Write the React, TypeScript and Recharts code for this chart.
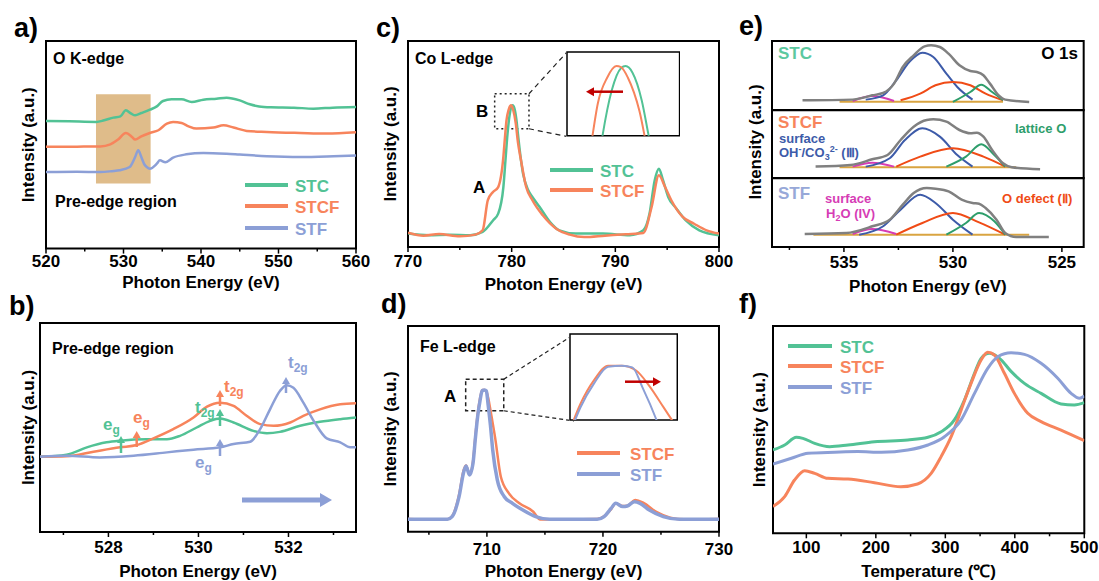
import React from 'react';
import { LineChart, Line, XAxis, YAxis, ReferenceArea, ReferenceLine } from 'recharts';

type Pt = [number, number];

const FONT = '"Liberation Sans", Arial, Helvetica, sans-serif';
const C_STC = '#52c295';
const C_STCF = '#f7845c';
const C_STF = '#8c9fd6';
const C_GRAY = '#808080';
const C_III = '#3d5ba9';
const C_II = '#f04b16';
const C_I = '#2e9e6b';
const C_IV = '#d63cb5';
const C_BASE = '#d9a441';
const C_RED = '#c00000';

// a) O K-edge
const okStc: Pt[] = [[520, 61.5], [523, 61.3], [526.5, 61.0], [527.5, 61.8], [528.7, 63.1], [529.6, 63.7], [530.3, 66.6], [531.0, 65.0], [531.5, 64.2], [532.3, 65.3], [533.4, 66.9], [534.3, 68.5], [535.1, 71.1], [536.2, 71.9], [537.5, 71.9], [538.8, 70.6], [540.3, 71.7], [542, 72.2], [543.3, 72.7], [545, 71.4], [546.3, 69.5], [547.5, 68.5], [549, 68.1], [552, 67.9], [554.5, 67.4], [557, 67.9], [560, 68.2]];
const okStcf: Pt[] = [[520, 49.0], [524, 49.1], [527, 49.2], [528.3, 50.2], [529.3, 52.5], [530.3, 55.7], [531.1, 53.8], [531.5, 52.5], [532.3, 54.1], [533.4, 55.7], [534.5, 57.0], [535.6, 60.2], [536.4, 61.0], [537.5, 60.5], [538.4, 58.9], [539.4, 57.8], [541.6, 58.3], [542.9, 59.4], [544.2, 58.3], [545.9, 56.7], [548.5, 56.2], [552.8, 55.7], [556.2, 55.4], [560, 56.0]];
const okStf: Pt[] = [[520, 36.9], [524, 37.0], [527, 36.9], [528.5, 37.3], [529.5, 37.7], [530.8, 39.3], [531.5, 44.1], [531.9, 47.4], [532.3, 44.1], [532.7, 40.5], [533.0, 39.3], [533.4, 38.5], [534.3, 40.9], [534.7, 42.5], [535.4, 41.6], [536.4, 43.8], [538.1, 45.4], [540.3, 46.1], [543.3, 45.7], [545, 45.3], [548.5, 44.5], [552.8, 44.1], [557.1, 44.5], [560, 44.9]];

// b) pre-edge region
const peStc: Pt[] = [[526.48, 36.0], [527.07, 37.0], [527.52, 40.5], [527.96, 42.9], [528.26, 43.7], [528.85, 44.4], [529.3, 44.4], [529.59, 46.0], [529.96, 50.0], [530.26, 53.2], [530.48, 54.3], [530.78, 52.4], [531.22, 48.4], [531.52, 47.3], [531.81, 47.9], [532.26, 50.8], [532.7, 52.7], [533.15, 54.0], [533.5, 54.8]];
const peStcf: Pt[] = [[526.48, 36.0], [527.07, 36.2], [527.67, 38.4], [528.26, 40.5], [528.63, 41.6], [529.0, 44.8], [529.44, 49.2], [529.89, 54.8], [530.19, 60.0], [530.48, 61.9], [530.78, 60.3], [531.07, 55.6], [531.37, 51.6], [531.67, 50.8], [532.04, 52.4], [532.33, 55.6], [532.7, 58.7], [533.15, 61.1], [533.5, 61.6]];
const peStf: Pt[] = [[526.48, 36.0], [527.07, 36.5], [527.81, 35.7], [528.56, 36.5], [529.3, 38.1], [529.89, 39.4], [530.48, 40.5], [530.78, 42.1], [531.15, 43.2], [531.37, 49.2], [531.59, 58.7], [531.81, 67.5], [531.96, 70.2], [532.11, 69.0], [532.33, 61.9], [532.56, 53.2], [532.85, 44.8], [533.15, 42.9], [533.37, 40.5], [533.5, 40.5]];

// c) Co L-edge
const coStc: Pt[] = [[770, 6.5], [772, 5.7], [774, 6.0], [776, 5.7], [777.2, 7.3], [778.2, 12.9], [778.7, 16.2], [779.2, 29.1], [779.4, 42], [779.6, 55], [779.8, 64], [780.0, 68.4], [780.1, 68.8], [780.25, 67.5], [780.45, 62], [780.6, 55], [780.85, 44], [781.1, 35.6], [781.6, 27.5], [782, 24.3], [782.7, 19.4], [783.7, 12.1], [784.6, 8.1], [786.2, 6.5], [788.8, 6.5], [791.4, 5.7], [792.7, 8.1], [793.3, 16.2], [793.8, 32.4], [794.2, 38.0], [794.6, 32.4], [795.1, 24.3], [795.9, 18.6], [796.8, 12.9], [798.1, 8.1], [800, 5.7]];
const coStcf: Pt[] = [[770, 7.0], [771.5, 5.5], [773, 6.3], [775, 5.2], [776.5, 6.0], [777.2, 8.1], [777.7, 22.7], [778.2, 26.7], [778.7, 29.1], [779.2, 43.7], [779.35, 53], [779.5, 61.5], [779.7, 66.5], [779.9, 68.8], [780.0, 68.6], [780.15, 66.5], [780.4, 59.9], [780.6, 51], [780.9, 42.1], [781.4, 29.1], [782, 22.7], [783, 15.4], [784.3, 8.9], [785.6, 6.0], [787, 4.8], [789, 5.5], [791, 6.2], [792.7, 6.8], [793.5, 19.4], [794.2, 34.8], [794.8, 29.1], [795.4, 22.7], [796.5, 14.6], [797.6, 11.3], [798.8, 8.1], [800, 6.5]];

// d) Fe L-edge
const feStcf: Pt[] = [[703.2, 6.2], [705, 5.8], [706.6, 6.1], [707.0, 7.5], [707.6, 18], [708.0, 30], [708.2, 32.2], [708.5, 28], [708.8, 34], [709.0, 46], [709.2, 57], [709.4, 64.5], [709.6, 68.9], [709.8, 68.9], [710.0, 67.5], [710.2, 62.5], [710.4, 56], [710.7, 46], [711.2, 26.7], [711.9, 18.6], [712.8, 13.8], [714.0, 9.7], [714.6, 5.9], [719.5, 6.2], [720.1, 7.5], [720.7, 11], [721.1, 13.8], [721.7, 12.5], [722.1, 12.6], [722.8, 15.4], [723.5, 14], [724.6, 9.6], [725.8, 6.8], [727, 6.0], [730, 6.2]];
const feStf: Pt[] = [[703.2, 6.0], [705, 6.0], [706.6, 6.0], [707.0, 7.3], [707.6, 17.0], [708.0, 29.0], [708.2, 31.9], [708.5, 27.6], [708.8, 33.2], [709.0, 45], [709.2, 55.9], [709.4, 63.5], [709.6, 68.6], [709.8, 68.9], [709.95, 68.4], [710.1, 62], [710.3, 52], [710.5, 39.7], [710.9, 25.1], [711.5, 17.0], [712.2, 13.8], [713.1, 10.5], [714.2, 7.3], [715.4, 6.0], [719.5, 6.0], [720.1, 7.3], [720.7, 11.3], [721.1, 13.8], [721.7, 12.2], [722.1, 12.5], [722.7, 14.6], [723.2, 13.8], [724.0, 10.5], [725.2, 7.3], [726.6, 6.0], [730, 6.0]];

// e) O 1s fits, one set per sample
const stcEnv: Pt[] = [[536.9, 14.4], [534.6, 15.4], [534.1, 18.3], [533.7, 21.6], [533.2, 25.0], [532.7, 38.5], [532.3, 62.5], [531.8, 79.3], [531.3, 92.3], [531.0, 93.8], [530.6, 91.3], [530.2, 81.7], [529.7, 64.9], [529.2, 56.7], [528.9, 55.3], [528.6, 50.5], [528.3, 38.5], [527.9, 21.6], [527.6, 15.4], [526.5, 12.0]];
const stcIII: Pt[] = [[534.0, 15.4], [533.2, 21.6], [532.6, 43.3], [532.0, 69.7], [531.4, 83.2], [530.9, 76.9], [530.3, 52.9], [529.8, 33.7], [529.1, 15.4]];
const stcII: Pt[] = [[532.4, 14.4], [531.5, 24.0], [530.8, 36.1], [530.0, 40.9], [529.2, 36.1], [528.5, 24.0], [527.7, 14.4]];
const stcI: Pt[] = [[530.0, 12.0], [529.2, 26.4], [528.7, 37.0], [528.2, 26.4], [527.7, 14.4]];
const stcIV: Pt[] = [[534.6, 13.5], [533.7, 20.7], [532.7, 13.5]];
const stcBase: Pt[] = [[535.2, 12.5], [527.7, 12.5]];

const stcfEnv: Pt[] = [[536.3, 17.1], [534.7, 19.5], [533.7, 27.8], [533.0, 34.1], [532.4, 56.1], [531.8, 75.6], [531.2, 85.4], [530.9, 86.3], [530.3, 82.9], [529.7, 70.7], [529.2, 65.9], [528.9, 66.8], [528.6, 61.0], [528.2, 41.5], [527.7, 22.0], [527.3, 16.1], [526.0, 13.2]];
const stcfIII: Pt[] = [[534.0, 17.1], [532.9, 29.3], [532.2, 56.1], [531.4, 73.2], [530.6, 61.0], [529.8, 34.1], [529.1, 17.1]];
const stcfII: Pt[] = [[532.6, 17.1], [531.5, 31.7], [530.0, 43.9], [528.6, 31.7], [527.6, 17.1]];
const stcfI: Pt[] = [[530.3, 17.1], [529.4, 31.7], [528.7, 49.8], [528.1, 34.1], [527.6, 17.1]];
const stcfIV: Pt[] = [[534.6, 17.1], [533.7, 22.9], [532.7, 17.1]];
const stcfBase: Pt[] = [[535.2, 16.1], [527.1, 16.1]];

const stfEnv: Pt[] = [[536.8, 18.8], [534.9, 20.3], [533.7, 30.0], [532.9, 39.6], [532.3, 61.4], [531.8, 78.3], [531.2, 85.5], [530.8, 84.5], [530.2, 80.7], [529.6, 68.6], [529.1, 63.8], [528.8, 62.8], [528.5, 56.5], [528.0, 39.6], [527.6, 20.3], [527.1, 14.5], [525.6, 14.5]];
const stfIII: Pt[] = [[534.3, 17.9], [533.2, 30.0], [532.4, 54.1], [531.5, 75.8], [530.8, 63.8], [530.0, 39.6], [529.1, 17.9]];
const stfII: Pt[] = [[532.6, 17.9], [531.4, 34.8], [530.0, 49.3], [528.8, 35.7], [527.6, 17.9]];
const stfI: Pt[] = [[530.3, 17.9], [529.4, 34.8], [528.8, 49.3], [528.1, 37.2], [527.6, 17.9]];
const stfIV: Pt[] = [[534.6, 18.8], [533.7, 26.1], [532.6, 18.8]];
const stfBase: Pt[] = [[536.4, 17.9], [526.5, 17.9]];

// f) temperature programmed curves
const tpStc: Pt[] = [[52, 40.2], [68.8, 42.6], [85.6, 46.3], [95, 45.8], [112, 43.4], [133.5, 41.8], [160, 42.6], [198, 44.2], [246, 45.0], [275, 46.3], [294, 49.0], [313, 54.7], [327.5, 64.3], [342, 77.2], [351.5, 84.4], [363.5, 86.8], [378, 84.4], [394.6, 78.1], [413.8, 72.3], [437.8, 67.5], [466.5, 62.4], [485.6, 61.9], [500, 63.0]];
const tpStcf: Pt[] = [[52, 12.9], [68.8, 17.7], [83, 25.7], [97.6, 30.2], [112, 28.9], [131, 26.5], [160, 26.2], [198, 24.4], [236, 22.5], [260, 23.8], [279.6, 28.9], [294, 37.0], [308.4, 46.6], [322.8, 59.5], [337, 72.3], [351.5, 83.6], [361, 87.3], [370.6, 86.0], [385, 77.2], [399.4, 67.5], [418.6, 57.9], [437.8, 53.9], [466.5, 49.8], [500, 44.7]];
const tpStf: Pt[] = [[52, 33.4], [78.5, 36.2], [102.4, 38.6], [140.7, 39.1], [174, 39.4], [208, 39.1], [246, 40.2], [275, 42.6], [298.8, 46.6], [322.8, 54.7], [342, 67.5], [361, 79.6], [375.5, 85.2], [394.6, 87.1], [413.8, 86.3], [437.8, 82.0], [461.8, 74.8], [481, 67.5], [493, 65.1], [500, 66.2]];

const aMajors = [520, 530, 540, 550, 560];
const aMinors = [525, 535, 545, 555];
const bMajors = [528, 530, 532];
const bMinors = [527, 529, 531, 533];
const cMajors = [770, 780, 790, 800];
const cMinors = [775, 785, 795];
const dMajors = [710, 720, 730];
const dMinors = [705, 715, 725];
const eMajors = [525, 530, 535];
const eMinors = [527.5, 532.5, 537.5];
const fMajors = [100, 200, 300, 400, 500];
const fMinors = [150, 250, 350, 450];

type Box = { x: number; y: number; w: number; h: number };
type SeriesDef = { name: string; pts: Pt[]; color: string; width?: number };

const toRows = (pts: Pt[]) => pts.map(([x, y]) => ({ x, y }));

function tickRenderer(majors: number[], dy: number) {
  return (props: any) => {
    const { x, y, payload } = props;
    const v = payload.value;
    const major = majors.some((m) => Math.abs(m - v) < 1e-6);
    return (
      <g>
        <line x1={x} x2={x} y1={y} y2={y + (major ? 5 : 3)} stroke="#000" strokeWidth={1.5} />
        {major && (
          <text x={x} y={y + dy} textAnchor="middle" fontSize={17} fontWeight={700} fill="#000" fontFamily={FONT}>
            {v}
          </text>
        )}
      </g>
    );
  };
}

type PanelProps = {
  box: Box;
  xDomain: [number, number];
  majors?: number[];
  minors?: number[];
  reversed?: boolean;
  series: SeriesDef[];
  tickDy?: number;
  titleDy?: number;
  xTitle?: string;
  yGap?: number;
  before?: React.ReactNode;
  after?: React.ReactNode;
};

function Panel({ box, xDomain, majors = [], minors = [], reversed, series, tickDy = 20, titleDy = 42, xTitle, yGap = 0, before, after }: PanelProps) {
  const T = 2;
  const ticks = [...majors, ...minors].sort((a, b) => a - b);
  const R = ticks.length ? 22 : 2;
  const Wy = yGap > 0 ? yGap * 2 : 2;
  const H = ticks.length ? titleDy + 8 : 0;
  const width = Wy + box.w + R;
  const height = T + box.h + H + (ticks.length ? 0 : 2);
  return (
    <div style={{ position: 'absolute', left: box.x - Wy, top: box.y - T, width, height }}>
      <LineChart width={width} height={height} margin={{ top: T, right: R, left: 0, bottom: ticks.length ? 0 : 2 }}>
        <XAxis
          type="number"
          dataKey="x"
          domain={xDomain}
          reversed={reversed}
          allowDataOverflow
          hide={!ticks.length}
          ticks={ticks}
          interval={0}
          tick={tickRenderer(majors, tickDy)}
          tickLine={false}
          axisLine={false}
          tickSize={0}
          tickMargin={0}
          height={H}
          label={xTitle ? { value: xTitle, position: 'insideBottom', offset: 8, fontSize: 17, fontWeight: 700, fill: '#000', fontFamily: FONT } : undefined}
        />
        <YAxis
          type="number"
          domain={[0, 100]}
          allowDataOverflow
          width={Wy}
          tick={false}
          tickLine={false}
          axisLine={false}
          label={yGap > 0 ? { value: 'Intensity (a.u.)', angle: -90, position: 'center', fontSize: 17, fontWeight: 700, fill: '#000', fontFamily: FONT } : undefined}
        />
        {before}
        {series.map((s) => (
          <Line
            key={s.name}
            data={toRows(s.pts)}
            dataKey="y"
            name={s.name}
            type="monotone"
            dot={false}
            activeDot={false}
            stroke={s.color}
            strokeWidth={s.width ?? 2.5}
            isAnimationActive={false}
          />
        ))}
        {after}
        <ReferenceArea x1={xDomain[0]} x2={xDomain[1]} y1={0} y2={100} fill="none" stroke="#000" strokeWidth={2} ifOverflow="visible" />
      </LineChart>
    </div>
  );
}

function Inset({ box, xDomain, yDomain, series }: { box: Box; xDomain: [number, number]; yDomain: [number, number]; series: SeriesDef[] }) {
  return (
    <div style={{ position: 'absolute', left: box.x - 1, top: box.y - 1, width: box.w + 2, height: box.h + 2, background: '#fff' }}>
      <LineChart width={box.w + 2} height={box.h + 2} margin={{ top: 1, right: 1, left: 1, bottom: 1 }}>
        <XAxis type="number" dataKey="x" domain={xDomain} allowDataOverflow hide />
        <YAxis type="number" domain={yDomain} allowDataOverflow hide />
        {series.map((s) => (
          <Line key={s.name} data={toRows(s.pts)} dataKey="y" type="monotone" dot={false} activeDot={false} stroke={s.color} strokeWidth={2} isAnimationActive={false} />
        ))}
        <ReferenceArea x1={xDomain[0]} x2={xDomain[1]} y1={yDomain[0]} y2={yDomain[1]} fill="none" stroke="#000" strokeWidth={1.5} ifOverflow="visible" />
      </LineChart>
    </div>
  );
}

function Arrow({ x1, y1, x2, y2, color, w = 2.5, hw = 4, hl = 7 }: { x1: number; y1: number; x2: number; y2: number; color: string; w?: number; hw?: number; hl?: number }) {
  const dx = x2 - x1;
  const dy = y2 - y1;
  const len = Math.hypot(dx, dy);
  const ux = dx / len;
  const uy = dy / len;
  const bx = x2 - ux * hl;
  const by = y2 - uy * hl;
  const px = -uy;
  const py = ux;
  return (
    <g>
      <line x1={x1} y1={y1} x2={bx + ux} y2={by + uy} stroke={color} strokeWidth={w} />
      <polygon points={`${x2},${y2} ${bx + px * hw},${by + py * hw} ${bx - px * hw},${by - py * hw}`} fill={color} />
    </g>
  );
}

function LegendRow({ x1, x2, y, tx, color, label }: { x1: number; x2: number; y: number; tx: number; color: string; label: string }) {
  return (
    <g>
      <line x1={x1} x2={x2} y1={y} y2={y} stroke={color} strokeWidth={4} />
      <text x={tx} y={y + 6.5} fill={color} fontSize={17} fontWeight={700}>
        {label}
      </text>
    </g>
  );
}

const dotted = { fill: 'none', stroke: '#222', strokeWidth: 1.5 };

export default function App() {
  const boxA = { x: 46, y: 40.7, w: 310, h: 207.6 };
  const boxB = { x: 40, y: 323.3, w: 316, h: 209 };
  const boxC = { x: 408.3, y: 40.7, w: 311, h: 206 };
  const boxD = { x: 408.3, y: 326, w: 311, h: 205.7 };
  const boxF = { x: 772.7, y: 326, w: 311.3, h: 207.3 };
  const eDom: [number, number] = [524.0, 538.3];

  return (
    <div style={{ position: 'absolute', left: 0, top: 0, width: 1099, height: 581, background: '#fff', fontFamily: FONT, overflow: 'hidden' }}>
      <Panel
        box={boxA}
        xDomain={[520, 560]}
        majors={aMajors}
        minors={aMinors}
        tickDy={18.5}
        titleDy={39}
        xTitle="Photon Energy (eV)"
        yGap={18}
        series={[
          { name: 'STC', pts: okStc, color: C_STC },
          { name: 'STCF', pts: okStcf, color: C_STCF },
          { name: 'STF', pts: okStf, color: C_STF },
        ]}
        before={<ReferenceArea x1={526.45} x2={533.5} y1={31.3} y2={74.3} fill="#dfbc8a" fillOpacity={1} stroke="none" />}
      />
      <Panel
        box={boxB}
        xDomain={[526.48, 533.5]}
        majors={bMajors}
        minors={bMinors}
        tickDy={20.5}
        titleDy={44.5}
        xTitle="Photon Energy (eV)"
        yGap={12}
        series={[
          { name: 'STC', pts: peStc, color: C_STC },
          { name: 'STCF', pts: peStcf, color: C_STCF },
          { name: 'STF', pts: peStf, color: C_STF },
        ]}
      />
      <Panel
        box={boxC}
        xDomain={[770, 800]}
        majors={cMajors}
        minors={cMinors}
        tickDy={20}
        titleDy={43}
        xTitle="Photon Energy (eV)"
        yGap={18}
        series={[
          { name: 'STC', pts: coStc, color: C_STC },
          { name: 'STCF', pts: coStcf, color: C_STCF },
        ]}
        after={
          <>
            <ReferenceArea x1={778.36} x2={781.67} y1={57.4} y2={74.4} {...dotted} strokeDasharray="2 3" />
            <ReferenceLine segment={[{ x: 781.67, y: 74.4 }, { x: 785.28, y: 94.3 }]} stroke="#222" strokeWidth={1.2} strokeDasharray="5 4" />
            <ReferenceLine segment={[{ x: 781.67, y: 57.4 }, { x: 785.28, y: 53.7 }]} stroke="#222" strokeWidth={1.2} strokeDasharray="5 4" />
          </>
        }
      />
      <Inset
        box={{ x: 566.7, y: 52.3, w: 112.6, h: 83.7 }}
        xDomain={[778.83, 781.27]}
        yDomain={[55, 71.6]}
        series={[
          { name: 'STC', pts: coStc, color: C_STC },
          { name: 'STCF', pts: coStcf, color: C_STCF },
        ]}
      />
      <Panel
        box={boxD}
        xDomain={[703.2, 730]}
        majors={dMajors}
        minors={dMinors}
        tickDy={23}
        titleDy={45.5}
        xTitle="Photon Energy (eV)"
        yGap={18}
        series={[
          { name: 'STCF', pts: feStcf, color: C_STCF, width: 2.5 },
          { name: 'STF', pts: feStf, color: C_STF, width: 3.5 },
        ]}
        after={
          <>
            <ReferenceArea x1={708.17} x2={711.45} y1={58.8} y2={74.1} {...dotted} strokeDasharray="4 3" />
            <ReferenceLine segment={[{ x: 711.45, y: 74.1 }, { x: 717.3, y: 95.1 }]} stroke="#222" strokeWidth={1.2} strokeDasharray="4 3" />
            <ReferenceLine segment={[{ x: 711.45, y: 58.8 }, { x: 717.5, y: 53.8 }]} stroke="#222" strokeWidth={1.2} strokeDasharray="4 3" />
          </>
        }
      />
      <Inset
        box={{ x: 570, y: 334, w: 107.3, h: 86 }}
        xDomain={[709.05, 710.6]}
        yDomain={[52, 78.8]}
        series={[
          { name: 'STCF', pts: feStcf, color: C_STCF },
          { name: 'STF', pts: feStf, color: C_STF },
        ]}
      />
      <Panel
        box={{ x: 772.3, y: 40.7, w: 311.7, h: 69.3 }}
        xDomain={eDom}
        reversed
        series={[
          { name: 'base', pts: stcBase, color: C_BASE, width: 2 },
          { name: 'IV', pts: stcIV, color: C_IV, width: 2 },
          { name: 'III', pts: stcIII, color: C_III, width: 2 },
          { name: 'II', pts: stcII, color: C_II, width: 2 },
          { name: 'I', pts: stcI, color: C_I, width: 2 },
          { name: 'env', pts: stcEnv, color: C_GRAY, width: 2.5 },
        ]}
      />
      <Panel
        box={{ x: 772.3, y: 110, w: 311.7, h: 68.3 }}
        xDomain={eDom}
        reversed
        series={[
          { name: 'base', pts: stcfBase, color: C_BASE, width: 2 },
          { name: 'IV', pts: stcfIV, color: C_IV, width: 2 },
          { name: 'III', pts: stcfIII, color: C_III, width: 2 },
          { name: 'II', pts: stcfII, color: C_II, width: 2 },
          { name: 'I', pts: stcfI, color: C_I, width: 2 },
          { name: 'env', pts: stcfEnv, color: C_GRAY, width: 2.5 },
        ]}
      />
      <Panel
        box={{ x: 772.3, y: 178.3, w: 311.7, h: 69 }}
        xDomain={eDom}
        reversed
        majors={eMajors}
        minors={eMinors}
        tickDy={21}
        titleDy={45.5}
        xTitle="Photon Energy (eV)"
        series={[
          { name: 'base', pts: stfBase, color: C_BASE, width: 2 },
          { name: 'IV', pts: stfIV, color: C_IV, width: 2 },
          { name: 'III', pts: stfIII, color: C_III, width: 2 },
          { name: 'II', pts: stfII, color: C_II, width: 2 },
          { name: 'I', pts: stfI, color: C_I, width: 2 },
          { name: 'env', pts: stfEnv, color: C_GRAY, width: 2.5 },
        ]}
      />
      <Panel
        box={boxF}
        xDomain={[52, 500]}
        majors={fMajors}
        minors={fMinors}
        tickDy={20}
        titleDy={44}
        xTitle="Temperature (℃)"
        yGap={14}
        series={[
          { name: 'STC', pts: tpStc, color: C_STC, width: 3 },
          { name: 'STCF', pts: tpStcf, color: C_STCF, width: 3 },
          { name: 'STF', pts: tpStf, color: C_STF, width: 3 },
        ]}
      />

      <svg width={1099} height={581} style={{ position: 'absolute', left: 0, top: 0, pointerEvents: 'none' }} fontFamily={FONT} fontWeight={700}>
        {/* panel letters */}
        <text x={14} y={37} fontSize={27}>a)</text>
        <text x={9} y={315} fontSize={27}>b)</text>
        <text x={376} y={37} fontSize={27}>c)</text>
        <text x={381} y={313} fontSize={27}>d)</text>
        <text x={739} y={35} fontSize={27}>e)</text>
        <text x={739} y={313} fontSize={27}>f)</text>

        {/* a */}
        <text x={53} y={64} fontSize={16}>O K-edge</text>
        <text x={55} y={207} fontSize={16}>Pre-edge region</text>
        <LegendRow x1={245} x2={288} y={185} tx={295} color={C_STC} label="STC" />
        <LegendRow x1={245} x2={288} y={206} tx={295} color={C_STCF} label="STCF" />
        <LegendRow x1={245} x2={288} y={228} tx={295} color={C_STF} label="STF" />

        {/* b */}
        <text x={52} y={354} fontSize={16}>Pre-edge region</text>
        <Arrow x1={121} y1={453} x2={121} y2={436} color={C_STC} />
        <Arrow x1={136.7} y1={447} x2={136.7} y2={431} color={C_STCF} />
        <Arrow x1={220} y1={426} x2={220} y2={409} color={C_STC} />
        <Arrow x1={220} y1={406} x2={220} y2={390} color={C_STCF} />
        <Arrow x1={220} y1={456} x2={220} y2={439} color={C_STF} />
        <Arrow x1={286} y1={393} x2={286} y2={377} color={C_STF} />
        <Arrow x1={242} y1={500} x2={332} y2={500} color={C_STF} w={5} hw={7} hl={12} />
        <text x={103} y={430} fontSize={17} fill={C_STC}>e<tspan fontSize={12} dy={4}>g</tspan></text>
        <text x={133} y={423} fontSize={17} fill={C_STCF}>e<tspan fontSize={12} dy={4}>g</tspan></text>
        <text x={195} y={413} fontSize={17} fill={C_STC}>t<tspan fontSize={12} dy={4}>2g</tspan></text>
        <text x={224} y={392} fontSize={17} fill={C_STCF}>t<tspan fontSize={12} dy={4}>2g</tspan></text>
        <text x={288} y={368} fontSize={17} fill={C_STF}>t<tspan fontSize={12} dy={4}>2g</tspan></text>
        <text x={195} y={468} fontSize={17} fill={C_STF}>e<tspan fontSize={12} dy={4}>g</tspan></text>

        {/* c */}
        <text x={415} y={64} fontSize={16}>Co L-edge</text>
        <text x={476} y={117} fontSize={17}>B</text>
        <text x={473} y={193} fontSize={17}>A</text>
        <LegendRow x1={550} x2={593} y={170} tx={600} color={C_STC} label="STC" />
        <LegendRow x1={550} x2={593} y={190} tx={600} color={C_STCF} label="STCF" />
        <Arrow x1={623} y1={91.7} x2={586} y2={91.7} color={C_RED} w={2.5} hw={4.5} hl={8} />

        {/* d */}
        <text x={420} y={352} fontSize={16}>Fe L-edge</text>
        <text x={444} y={402} fontSize={17}>A</text>
        <LegendRow x1={577} x2={620} y={453} tx={630} color={C_STCF} label="STCF" />
        <LegendRow x1={577} x2={620} y={474} tx={630} color={C_STF} label="STF" />
        <Arrow x1={625} y1={381.7} x2={661} y2={381.7} color={C_RED} w={2.5} hw={4.5} hl={8} />

        {/* e */}
        <text transform="translate(761,142) rotate(-90)" textAnchor="middle" fontSize={17}>Intensity (a.u.)</text>
        <text x={778} y={59} fontSize={17} fill="#5cc8a0">STC</text>
        <text x={1078} y={59} fontSize={17} textAnchor="end">O 1s</text>
        <text x={778} y={128} fontSize={17} fill={C_STCF}>STCF</text>
        <text x={779} y={143} fontSize={13} fill={C_III}>surface</text>
        <text x={779} y={157} fontSize={13} fill={C_III}>
          OH<tspan fontSize={9} dy={-5}>-</tspan>
          <tspan dy={5}>/CO</tspan>
          <tspan fontSize={9} dy={3}>3</tspan>
          <tspan fontSize={9} dy={-8}>2-</tspan>
          <tspan dy={5}> (Ⅲ)</tspan>
        </text>
        <text x={1015} y={133} fontSize={13} fill={C_I}>lattice O</text>
        <text x={778} y={199} fontSize={17} fill="#97a8d8">STF</text>
        <text x={825} y={203} fontSize={13} fill={C_IV}>surface</text>
        <text x={826} y={218} fontSize={13} fill={C_IV}>
          H<tspan fontSize={9} dy={3}>2</tspan>
          <tspan dy={-3}>O (IV)</tspan>
        </text>
        <text x={1002} y={203} fontSize={13} fill={C_II}>O defect (Ⅱ)</text>

        {/* f */}
        <LegendRow x1={788} x2={832} y={346} tx={840} color={C_STC} label="STC" />
        <LegendRow x1={788} x2={832} y={366} tx={840} color={C_STCF} label="STCF" />
        <LegendRow x1={788} x2={832} y={387} tx={840} color={C_STF} label="STF" />
      </svg>
    </div>
  );
}
